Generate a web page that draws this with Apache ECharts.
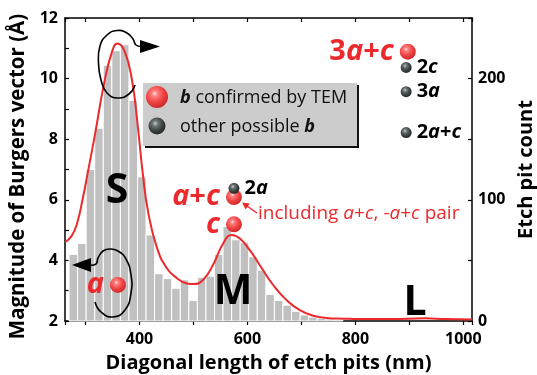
<!DOCTYPE html>
<html>
<head>
<meta charset="utf-8">
<script src="https://cdn.jsdelivr.net/npm/echarts@6/dist/echarts.min.js"></script>
<style>
html,body{margin:0;padding:0;background:#fff;}
#chart{width:537px;height:375px;}
</style>
</head>
<body>
<div id="chart"></div>
<script>
// Etch-pit size histogram: bin centres (nm) and pit counts
const binWidth = 15.85;
const binCenters = [277.4, 293.3, 309.1, 325.0, 340.8, 356.7, 372.5, 388.4, 404.2, 420.1,
  435.9, 451.8, 467.6, 483.5, 499.3, 515.2, 531.0, 546.9, 562.7, 578.6, 594.4, 610.3,
  626.1, 642.0, 657.8, 673.7, 689.5, 705.4, 721.2, 737.1, 752.9, 768.8];
const binCounts = [55, 64, 125, 159, 211, 223, 228, 182, 119, 71,
  39, 35, 27, 34, 17, 36, 37, 55, 78, 67, 65, 53,
  42, 22, 17, 13, 8, 5, 3.3, 2.2, 1.6, 1];

// Smoothed size distribution (nm, counts)
const fitLength = [262, 274, 284, 294, 304, 318, 334, 349, 359, 372, 386, 397, 406, 416, 432,
  450, 469, 488, 500, 518, 537, 555, 571, 586, 605, 623, 648, 673, 697, 722, 747,
  778, 806, 867, 929, 966, 1016];
const fitCount = [65, 70, 80, 99, 122, 155, 195, 222, 229, 223, 199, 160, 122, 90, 61,
  44, 35.5, 31, 30.5, 34, 47, 64, 71, 68, 58, 46, 29.5, 17, 9, 4.4, 2.5,
  1.9, 1.6, 1.6, 2.2, 1.6, 1.2];

// Burgers vectors confirmed by TEM: pit size (nm), magnitude (Å), name
const confirmedSize = [360, 575, 575, 897];
const confirmedB = [3.19, 5.19, 6.09, 10.89];
const confirmedName = ['a', 'c', 'a+c', '3a+c'];

// Other possible Burgers vectors
const possibleSize = [575, 894, 894, 894];
const possibleB = [6.38, 10.37, 9.57, 8.22];
const possibleName = ['2a', '2c', '3a', '2a+c'];

const xTicks = [400, 600, 800, 1000];
const leftTicks = [2, 4, 6, 8, 10, 12];
const rightTicks = [0, 100, 200];

const FONT = "'Open Sans', sans-serif";
const RED = '#ec2a2d';
const INK = '#000000';
const chart = echarts.init(document.getElementById('chart'), null, {renderer: 'canvas'});

const redBall = {
  type: 'radial', x: 0.4, y: 0.35, r: 0.7,
  colorStops: [
    {offset: 0, color: '#ffe3e3'}, {offset: 0.18, color: '#ff8080'},
    {offset: 0.55, color: '#f04545'}, {offset: 1, color: '#c92424'}
  ]
};
const darkBall = {
  type: 'radial', x: 0.4, y: 0.35, r: 0.7,
  colorStops: [
    {offset: 0, color: '#c8cccc'}, {offset: 0.25, color: '#6a7272'},
    {offset: 0.6, color: '#3d4444'}, {offset: 1, color: '#202626'}
  ]
};

function toRich(s) {
  return s.split('').map(ch => (/[abc]/.test(ch) ? '{i|' + ch + '}' : '{n|' + ch + '}')).join('');
}

const axisLineStyle = {color: '#000', width: 1.5};
const tickStyle = {color: '#000', width: 1.2};
const labelStyle = {color: '#000', fontSize: 16, fontWeight: 'bold', fontFamily: FONT};
const nameStyle = size => ({color: '#000', fontSize: size, fontWeight: 'bold', fontFamily: FONT});

const option = {
  animation: false,
  backgroundColor: '#fff',
  grid: {left: 65, right: 65, top: 18, bottom: 54, containLabel: false, outerBoundsMode: 'none'},
  xAxis: [{
    type: 'value', position: 'bottom', min: 262, max: 1016, splitNumber: 8,
    axisLine: {show: true, onZero: false, lineStyle: axisLineStyle},
    axisTick: {show: true, inside: false, length: 4, lineStyle: tickStyle},
    axisLabel: Object.assign({margin: 10, formatter: v => (xTicks.includes(v) ? String(v) : '')}, labelStyle),
    splitLine: {show: false},
    name: 'Diagonal length of etch pits (nm)', nameLocation: 'middle', nameGap: 32,
    nameTextStyle: nameStyle(20)
  }, {
    type: 'value', position: 'top', min: 262, max: 1016, splitNumber: 8,
    axisLine: {show: true, onZero: false, lineStyle: axisLineStyle},
    axisTick: {show: true, inside: true, length: 4, lineStyle: tickStyle},
    axisLabel: {show: false}, splitLine: {show: false}
  }],
  yAxis: [{
    type: 'value', position: 'left', min: 2, max: 12, interval: 1,
    axisLine: {show: true, onZero: false, lineStyle: axisLineStyle},
    axisTick: {show: true, inside: true, length: 4, lineStyle: tickStyle},
    axisLabel: Object.assign({margin: 7, formatter: v => (leftTicks.includes(v) ? String(v) : '')}, labelStyle),
    splitLine: {show: false},
    name: 'Magnitude of Burgers vector (Å)', nameLocation: 'middle', nameGap: 36,
    nameTextStyle: Object.assign(nameStyle(20.5), {padding: [0, 14, 0, 0]})
  }, {
    type: 'value', position: 'right', min: 0, max: 250, interval: 50,
    axisLine: {show: true, onZero: false, lineStyle: axisLineStyle},
    axisTick: {show: true, inside: true, length: 4, lineStyle: tickStyle},
    axisLabel: Object.assign({margin: 6, formatter: v => (rightTicks.includes(v) ? String(v) : '')}, labelStyle),
    splitLine: {show: false},
    name: 'Etch pit count', nameLocation: 'middle', nameGap: 44,
    nameTextStyle: nameStyle(20)
  }],
  series: [{
    name: 'count', type: 'custom', xAxisIndex: 0, yAxisIndex: 1, z: 1,
    data: binCenters.map((c, i) => [c, binCounts[i]]),
    encode: {x: 0, y: 1},
    renderItem: (params, api) => {
      const c = api.value(0), n = api.value(1);
      const p0 = api.coord([c - binWidth / 2, n]);
      const p1 = api.coord([c + binWidth / 2, 0]);
      return {
        type: 'rect',
        shape: {x: p0[0], y: p0[1], width: p1[0] - p0[0], height: p1[1] - p0[1]},
        style: {fill: '#c0c0c0', stroke: '#ffffff', lineWidth: 1}
      };
    }
  }, {
    name: 'fit', type: 'line', xAxisIndex: 0, yAxisIndex: 1, z: 3,
    data: fitLength.map((x, i) => [x, fitCount[i]]),
    smooth: 0.5, showSymbol: false, symbol: 'none',
    lineStyle: {color: RED, width: 2}
  }, {
    name: 'confirmed', type: 'scatter', xAxisIndex: 0, yAxisIndex: 0, z: 5,
    data: confirmedSize.map((x, i) => [x, confirmedB[i], confirmedName[i]]),
    symbol: 'circle', symbolSize: 16,
    itemStyle: {color: redBall, opacity: 1},
    label: {
      show: true, position: 'left', distance: 6, color: RED, opacity: 1,
      formatter: p => toRich(p.data[2]),
      rich: {
        i: {fontStyle: 'italic', fontWeight: 'bold', fontSize: 29, color: RED, fontFamily: FONT},
        n: {fontWeight: 'bold', fontSize: 29, color: RED, fontFamily: FONT}
      }
    }
  }, {
    name: 'possible', type: 'scatter', xAxisIndex: 0, yAxisIndex: 0, z: 5,
    data: possibleSize.map((x, i) => [x, possibleB[i], possibleName[i]]),
    symbol: 'circle', symbolSize: 11,
    itemStyle: {color: darkBall, opacity: 1},
    label: {
      show: true, position: 'right', distance: 5, color: INK, opacity: 1, textBorderWidth: 0,
      formatter: p => toRich(p.data[2]),
      rich: {
        i: {fontStyle: 'italic', fontWeight: 'bold', fontSize: 20, color: INK, fontFamily: FONT},
        n: {fontWeight: 'bold', fontSize: 20, color: INK, fontFamily: FONT}
      }
    }
  }],
  graphic: [
    // legend panel with drop shadow
    {type: 'rect', z: 20, shape: {x: 145, y: 85, width: 214, height: 63}, style: {fill: '#111'}},
    {type: 'rect', z: 21, shape: {x: 143, y: 83, width: 214, height: 63}, style: {fill: '#cccccc'}},
    {type: 'circle', z: 22, shape: {cx: 157, cy: 97, r: 11}, style: {fill: redBall}},
    {type: 'circle', z: 22, shape: {cx: 157, cy: 126, r: 8.5}, style: {fill: darkBall}},
    {type: 'text', z: 22, x: 180, y: 98, style: {
      text: '{b|b}{t| confirmed by TEM}', verticalAlign: 'middle',
      rich: {
        b: {fontStyle: 'italic', fontWeight: 'bold', fontSize: 18, fill: '#111', fontFamily: FONT},
        t: {fontSize: 18, fill: '#111', fontFamily: FONT}
      }
    }},
    {type: 'text', z: 22, x: 180, y: 127, style: {
      text: '{t|other possible }{b|b}', verticalAlign: 'middle',
      rich: {
        b: {fontStyle: 'italic', fontWeight: 'bold', fontSize: 18, fill: '#111', fontFamily: FONT},
        t: {fontSize: 18, fill: '#111', fontFamily: FONT}
      }
    }},
    // peak labels
    {type: 'text', z: 10, x: 117, y: 191, style: {text: 'S', fontSize: 41, fontWeight: 'bold', fontFamily: FONT, fill: '#000', align: 'center', verticalAlign: 'middle'}},
    {type: 'text', z: 10, x: 233, y: 292, style: {text: 'M', fontSize: 41, fontWeight: 'bold', fontFamily: FONT, fill: '#000', align: 'center', verticalAlign: 'middle'}},
    {type: 'text', z: 10, x: 415, y: 303, style: {text: 'L', fontSize: 41, fontWeight: 'bold', fontFamily: FONT, fill: '#000', align: 'center', verticalAlign: 'middle'}},
    // note on the a+c pit
    {type: 'text', z: 10, x: 258, y: 214, style: {
      text: '{t|including }{i|a}{t|+}{i|c}{t|, -}{i|a}{t|+}{i|c}{t| pair}', verticalAlign: 'middle',
      rich: {
        t: {fontSize: 19, fill: RED, fontFamily: FONT},
        i: {fontSize: 19, fill: RED, fontStyle: 'italic', fontFamily: FONT}
      }
    }},
    {type: 'line', z: 10, shape: {x1: 257, y1: 213, x2: 247, y2: 206}, style: {stroke: RED, lineWidth: 1.5}},
    {type: 'polygon', z: 10, shape: {points: [[242, 202.5], [249.7, 203.6], [245.7, 209.4]]}, style: {fill: RED}},
    // curling arrow around the S peak
    {type: 'polyline', z: 10, shape: {smooth: 0.5, points: [[135, 85], [129, 94], [118, 98], [107, 93], [101, 80], [98.5, 63], [100, 46], [107, 35], [117, 30.5], [127, 33], [133, 39], [136, 45], [142, 46.5]]}, style: {stroke: '#000', lineWidth: 1.6, fill: null}},
    {type: 'polygon', z: 10, shape: {points: [[140, 40], [160, 46.5], [140, 53]]}, style: {fill: '#000'}},
    // curling arrow around the a point
    {type: 'polyline', z: 10, shape: {smooth: 0.5, points: [[95, 302], [101, 312], [113, 317], [125, 310], [131, 293], [131, 275], [126, 259], [118, 251], [110, 249], [103, 251], [98, 258], [96, 264], [88, 265]]}, style: {stroke: '#000', lineWidth: 1.6, fill: null}},
    {type: 'polygon', z: 10, shape: {points: [[91, 258], [72, 265], [91, 272]]}, style: {fill: '#000'}}
  ]
};

chart.setOption(option);
</script>
</body>
</html>
